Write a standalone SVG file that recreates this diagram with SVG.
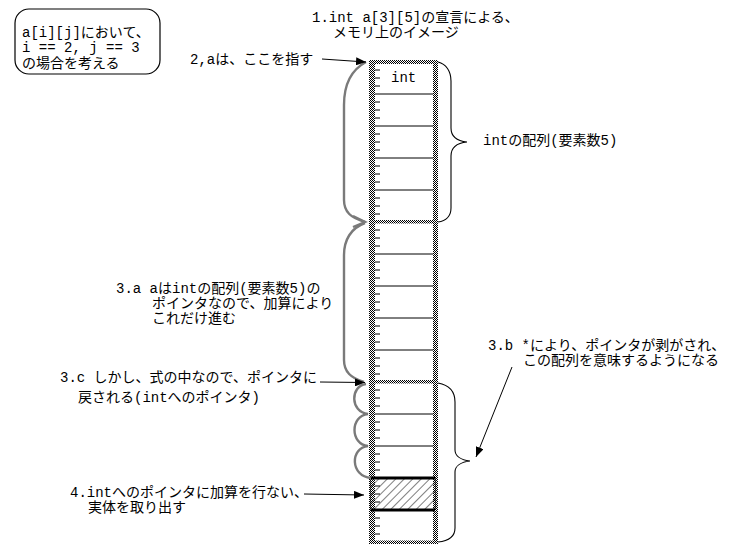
<svg xmlns="http://www.w3.org/2000/svg" width="735" height="560" viewBox="0 0 735 560">
<defs>
<pattern id="dither" width="2" height="2" patternUnits="userSpaceOnUse">
<rect width="2" height="2" fill="#ffffff"/>
<rect width="1" height="1" fill="#000000"/>
<rect x="1" y="1" width="1" height="1" fill="#000000"/>
</pattern>
<pattern id="hatch" width="6" height="6" patternUnits="userSpaceOnUse" patternTransform="rotate(45)">
<line x1="0" y1="0" x2="0" y2="6" stroke="#000" stroke-width="1"/>
</pattern>
<marker id="ah" viewBox="0 0 10 8" refX="10" refY="4" markerWidth="10" markerHeight="8" markerUnits="userSpaceOnUse" orient="auto">
<path d="M0,0 L10,4 L0,8 z" fill="#000"/>
</marker>
</defs>
<style>
text{font-family:"Liberation Mono","Noto Sans CJK JP",monospace;font-size:14px;fill:#000}
.wall{fill:url(#dither)}
.ln{stroke:#000;stroke-width:1;fill:none}
.thick{stroke:#000;stroke-width:3;fill:none}
.arrow{stroke:#000;stroke-width:1;fill:none;marker-end:url(#ah)}
.gbrace{stroke:#7a7a7a;stroke-width:2.4;fill:none}
.brace{stroke:#000;stroke-width:1.1;fill:none}
</style>
<rect width="735" height="560" fill="#ffffff"/>

<g id="note">
<rect x="15" y="9" width="145" height="65" rx="14" ry="14" fill="none" stroke="#000" stroke-width="1.2"/>
<text x="22" y="37">a[i][j]において、</text>
<text x="22" y="52" xml:space="preserve">i == 2, j == 3</text>
<text x="22" y="68">の場合を考える</text>
</g>

<g id="title">
<text x="312" y="22" xml:space="preserve">1.int a[3][5]の宣言による、</text>
<text x="333" y="37">メモリ上のイメージ</text>
</g>

<g id="array">
<rect x="375" y="63" width="58" height="479" fill="#fff"/>
<g class="ln">
<path d="M375,94H433M375,126H433M375,158H433M375,190H433"/>
<path d="M375,254H433M375,286H433M375,318H433M375,350H433"/>
<path d="M375,414H433M375,446H433"/>
<path d="M375,70H380M375,78H380M375,86H380M375,102H380M375,110H380M375,118H380M375,134H380M375,142H380M375,150H380M375,166H380M375,174H380M375,182H380M375,198H380M375,206H380M375,214H380"/>
<path d="M375,230H380M375,238H380M375,246H380M375,262H380M375,270H380M375,278H380M375,294H380M375,302H380M375,310H380M375,326H380M375,334H380M375,342H380M375,358H380M375,366H380M375,374H380"/>
<path d="M375,390H380M375,398H380M375,406H380M375,422H380M375,430H380M375,438H380M375,454H380M375,462H380M375,470H380M375,518H380M375,526H380M375,534H380"/>
</g>
<rect class="wall" x="369" y="61" width="6" height="483"/>
<rect class="wall" x="433" y="61" width="5" height="483"/>
<rect class="wall" x="369" y="60" width="69" height="4"/>
<rect class="wall" x="369" y="220" width="69" height="3.5"/>
<rect class="wall" x="369" y="380" width="69" height="3.5"/>
<rect class="wall" x="369" y="540.5" width="69" height="3.5"/>
<g id="target-element">
<rect x="371" y="478" width="64" height="32" fill="url(#hatch)" stroke="#000" stroke-width="1" stroke-dasharray="1,1"/>
<path class="ln" d="M375,486H380M375,494H380M375,502H380"/>
<path class="thick" d="M371,478H435M371,510H435"/>
</g>
<text x="391" y="82">int</text>
</g>

<g id="label-2a"><text x="190" y="64">2,aは、ここを指す</text></g>
<g id="label-array"><text x="483" y="145">intの配列(要素数5)</text></g>
<g id="label-3a">
<text x="116" y="293">3.a aはintの配列(要素数5)の</text>
<text x="152" y="308">ポインタなので、加算により</text>
<text x="152" y="323">これだけ進む</text>
</g>
<g id="label-3b">
<text x="488" y="350">3.b *により、ポインタが剥がされ、</text>
<text x="523" y="365">この配列を意味するようになる</text>
</g>
<g id="label-3c">
<text x="60" y="382">3.c しかし、式の中なので、ポインタに</text>
<text x="78" y="402">戻される(intへのポインタ)</text>
</g>
<g id="label-4">
<text x="70" y="497">4.intへのポインタに加算を行ない、</text>
<text x="88" y="512">実体を取り出す</text>
</g>

<g id="connectors">
<path class="gbrace" d="M366,62 C351,70 344,85 344,105 L344,200 C344,212 351,218 365,222"/>
<path class="gbrace" d="M353,216 L365,222 L353,227"/>
<path class="gbrace" d="M365,223 C351,228 344,240 344,255 L344,360 C344,372 351,378 364,382"/>
<path class="gbrace" d="M366,384 C350,386 350,412 368,414 C350,416 350,444 368,446 C350,448 350,476 371,478"/>
<path class="brace" d="M438,62 C446,64 451,71 451,81 L451,128 C451,136 457,141 467,142 C457,143 451,148 451,156 L451,208 C451,216 446,221 438,222"/>
<path class="brace" d="M438,383 C449,385 455,392 455,402 L455,450 C455,456 461,460 470,461 C461,462 455,466 455,472 L455,528 C455,536 449,541 438,542"/>
<path class="arrow" d="M322,59 L366,62"/>
<path class="arrow" d="M320,382 L365,382.5"/>
<path class="arrow" d="M304,494 L364,495"/>
<path class="arrow" d="M512,367 L476,457"/>
</g>
</svg>
